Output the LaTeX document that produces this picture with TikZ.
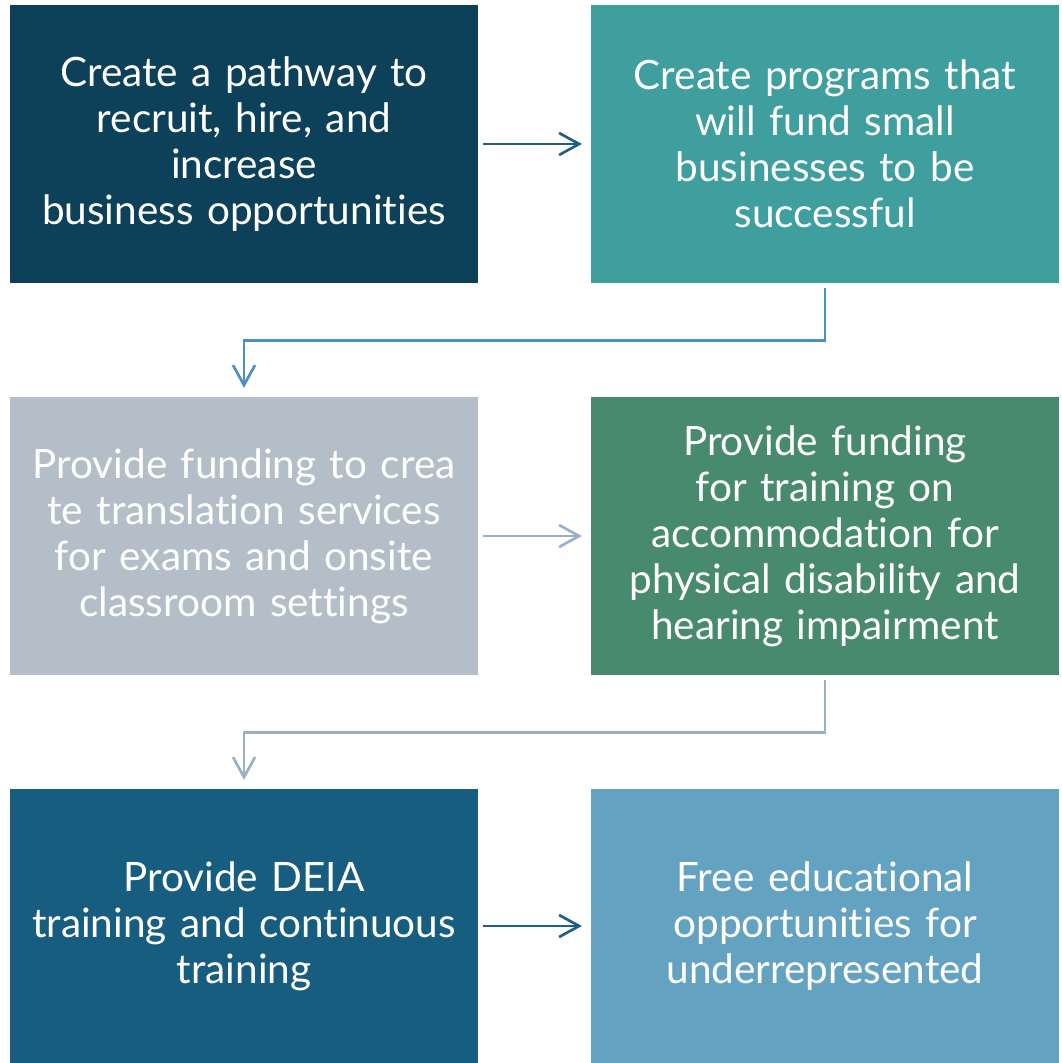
\documentclass[tikz,border=0pt]{standalone}
\usepackage{fontspec}
\setmainfont{Lato}[Ligatures=NoCommon]
\usetikzlibrary{arrows.meta}
\definecolor{navy}{HTML}{0D4159}
\definecolor{teal}{HTML}{3F9E9E}
\definecolor{greyblue}{HTML}{B3BEC8}
\definecolor{sage}{HTML}{488A6E}
\definecolor{ocean}{HTML}{165D80}
\definecolor{sky}{HTML}{64A2C2}
\definecolor{arrowdark}{HTML}{1F5F85}
\definecolor{arrowmid}{HTML}{4A90C0}
\definecolor{arrowpale}{HTML}{9AB0C4}

\begin{document}
\begin{tikzpicture}[x=0.025cm,y=-0.025cm,
box/.style={minimum width=11.7cm, minimum height=6.95cm, inner sep=0pt,
  text width=11.5cm, align=center, text=white,
  font=\fontsize{28.8}{32.7}\selectfont},
flow/.style={line width=1.9pt, -{Straight Barb[length=0.5cm, width=0.55cm, line width=1.9pt]},
  shorten <=0.125cm, shorten >=0.22cm}]
\useasboundingbox (0,0) rectangle (1061,1063);
\node[box, fill=navy] (A) at (244,144) {Create a pathway to\\recruit, hire, and\\increase\\business opportunities};
\node[box, fill=teal] (B) at (825,144) {Create programs that\\will fund small\\businesses to be\\successful};
\node[box, fill=greyblue] (C) at (244,536) {Provide funding to crea\\te translation services\\for exams and onsite\\classroom settings};
\node[box, fill=sage] (D) at (825,536) {Provide funding\\for training on\\accommodation for\\physical disability and\\hearing impairment};
\node[box, fill=ocean, minimum height=6.85cm] (E) at (244,926) {Provide DEIA\\training and continuous\\training};
\node[box, fill=sky, minimum height=6.85cm] (F) at (825,926) {Free educational\\opportunities for\\underrepresented};
\draw[flow, arrowdark] (A) -- (B);
\draw[flow, arrowmid] (B.south) -- ++(0,57) -| (C.north);
\draw[flow, arrowpale] (C) -- (D);
\draw[flow, arrowpale] (D.south) -- ++(0,57) -| (E.north);
\draw[flow, arrowdark] (E) -- (F);
\end{tikzpicture}
\end{document}
